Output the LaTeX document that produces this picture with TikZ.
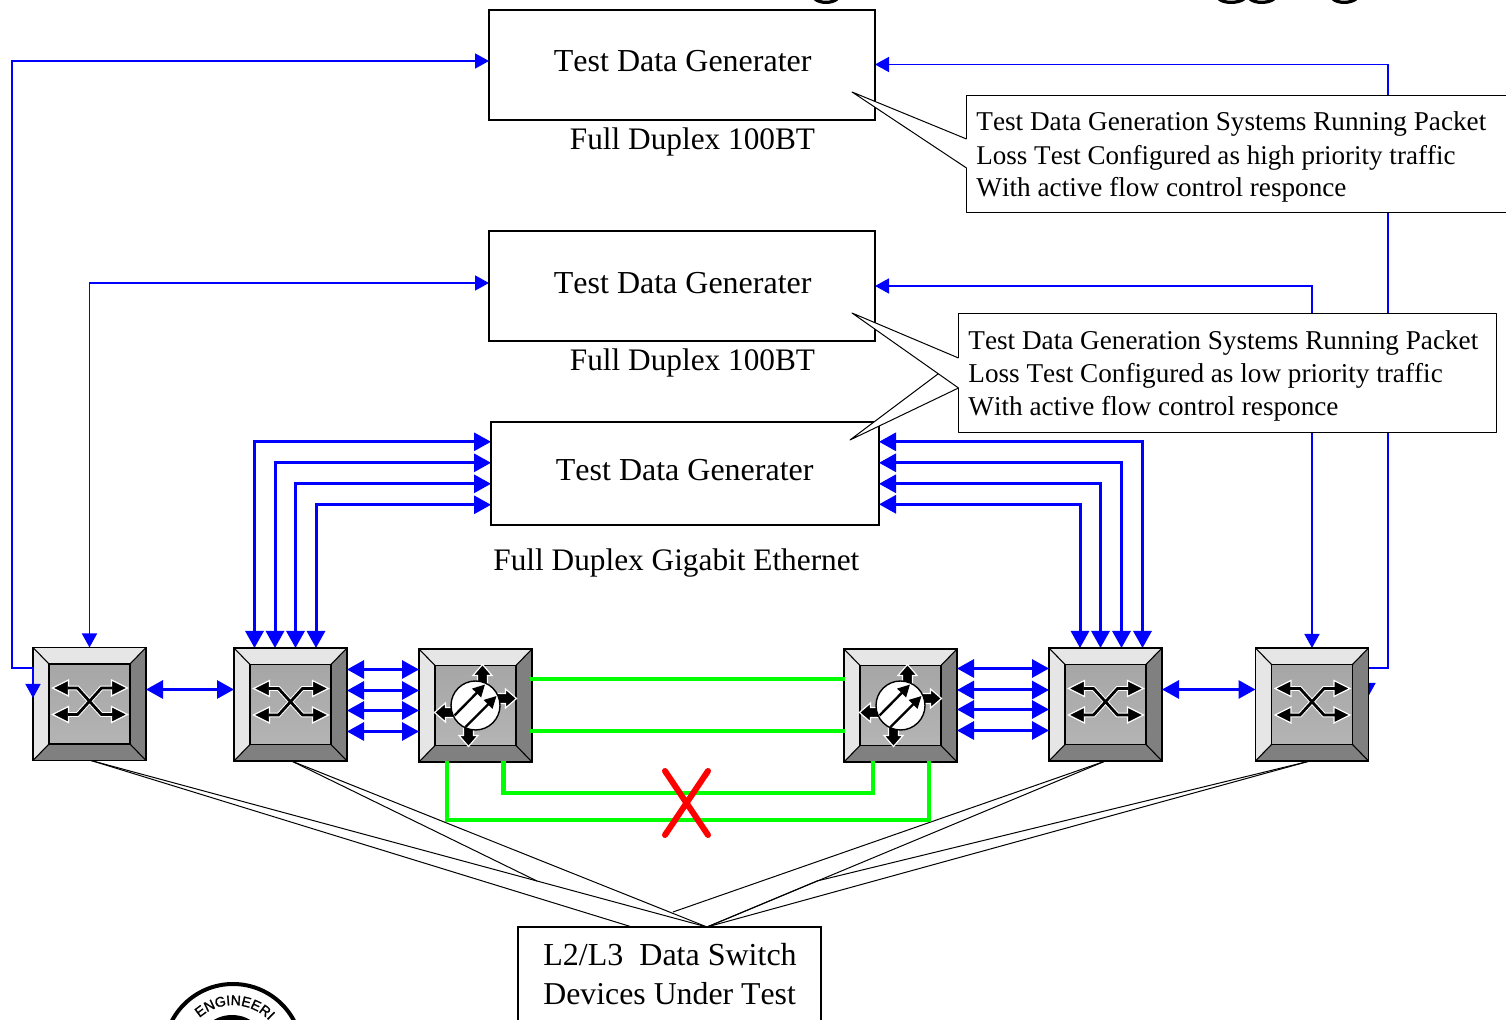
\documentclass[tikz,border=0pt]{standalone}
\usepackage{fontspec}
\setmainfont{Liberation Serif}[Kerning=Off]
\newfontfamily\sealfont{Liberation Sans}[FakeBold=1.5]
\usetikzlibrary{arrows.meta,calc,decorations.text}
\pgfdeclarelayer{back}
\pgfdeclarelayer{front}
\pgfsetlayers{back,main,front}
\definecolor{bevlight}{HTML}{E6E6E6}
\definecolor{bevdark}{HTML}{808080}
\definecolor{facetop}{HTML}{A6A6A6}
\definecolor{facebot}{HTML}{B4B4B4}
\tikzset{
  x=0.5pt,y=-0.5pt,
  genbox/.style={draw=black,fill=white,line width=0.75pt,inner sep=0pt,outer sep=0pt},
  devanchor/.style={inner sep=0pt,outer sep=0pt,minimum width=56.5pt,minimum height=56.5pt},
  bigtext/.style={font=\fontsize{16}{18}\selectfont,inner sep=0pt,anchor=base west},
  labeltext/.style={font=\fontsize{15.65}{18}\selectfont,inner sep=0pt,anchor=base west},
  calltext/.style={font=\fontsize{13.6}{16}\selectfont,inner sep=0pt,anchor=base west},
  thinblue/.style={draw=blue,line width=0.8pt},
  thinboth/.style={{Triangle[length=7pt,width=7.5pt]}-{Triangle[length=7pt,width=7.5pt]}},
  thickblue/.style={draw=blue,line width=1.5pt},
  dblhead/.style={{Triangle[length=8.5pt,width=9pt]}-{Triangle[length=8.5pt,width=9pt]}},
  greenlink/.style={draw=green,line width=2.4pt},
  tail/.style={draw=black,line width=0.5pt,line join=round},
  pics/bevel/.style={code={
    \fill[bevlight] (-56.5,-56.5)--(56.5,-56.5)--(40.5,-40)--(-40.5,-40)--cycle;
    \fill[bevlight] (-56.5,-56.5)--(-40.5,-40)--(-40.5,40)--(-56.5,56.5)--cycle;
    \fill[bevdark] (56.5,-56.5)--(40.5,-40)--(40.5,40)--(56.5,56.5)--cycle;
    \fill[bevdark] (-56.5,56.5)--(-40.5,40)--(40.5,40)--(56.5,56.5)--cycle;
    \shade[top color=facetop,bottom color=facebot] (-40.5,-40) rectangle (40.5,40);
    \draw[black,line width=0.55pt] (-56.5,-56.5)--(-40.5,-40) (56.5,-56.5)--(40.5,-40) (-56.5,56.5)--(-40.5,40) (56.5,56.5)--(40.5,40);
    \draw[black,line width=0.7pt] (-40.5,-40) rectangle (40.5,40);
    \draw[black,line width=0.9pt] (-56.5,-56.5) rectangle (56.5,56.5);
  }},
  pics/switchicon/.style={code={
    \draw[white,line width=2.4pt,line join=miter] (-24,-16)--(-12,-16)--(12,10.5)--(24,10.5);
    \draw[white,line width=2.4pt] (-24,10.5)--(-12,10.5)--(12,-16)--(24,-16);
    \foreach \hy in {-16,10.5}{
      \fill[black,draw=white,line width=0.6pt] (-37,\hy)--(-21,\hy-8)--(-21,\hy+8)--cycle;
      \fill[black,draw=white,line width=0.6pt] (38,\hy)--(22,\hy-8)--(22,\hy+8)--cycle;
    }
    \draw[black,line width=1.4pt] (-22,-16)--(-12,-16)--(12,10.5)--(23,10.5);
    \draw[black,line width=1.4pt] (-22,10.5)--(-12,10.5)--(12,-16)--(23,-16);
  }},
  pics/blockarrow/.style={code={
    \fill[black,draw=white,line width=0.6pt] (0,0)--(9.5,11)--(5,11)--(5,24)--(-5,24)--(-5,11)--(-9.5,11)--cycle;
  }},
  pics/routericon/.style={code={
    \pic[shift={(7,-41)}] {blockarrow};
    \pic[shift={(41,-7)},rotate=-90] {blockarrow};
    \pic[shift={(-7,41)},rotate=180] {blockarrow};
    \pic[shift={(-41,7)},rotate=90] {blockarrow};
    \draw[black,fill=white,line width=0.7pt] (0,0) circle[radius=24.5];
    \draw[black,line width=1.2pt,-{Triangle[length=6pt,width=6pt]}] (-21,10)--(9.5,-21);
    \draw[black,line width=1.2pt,-{Triangle[length=6pt,width=6pt]}] (-10,21.5)--(21,-9.5);
  }},
}
\begin{document}
\begin{tikzpicture}
\useasboundingbox (0,0) rectangle (1506,1020);
\clip (0,0) rectangle (1506,1020);

% generators
\node[genbox,minimum width=193pt,minimum height=55pt] (g1) at (682,65) {};
\node[genbox,minimum width=193pt,minimum height=55pt] (g2) at (682,286) {};
\node[genbox,minimum width=194pt,minimum height=51.5pt] (g3) at (685,473.5) {};
\node[bigtext] (g1t) at (553.5,72) {Test Data Generater};
\node[bigtext] (g2t) at (553.5,294) {Test Data Generater};
\node[bigtext] (g3t) at (555.5,481) {Test Data Generater};
\node[labeltext] (g1l) at (569.5,150) {Full Duplex 100BT};
\node[labeltext] (g2l) at (569.5,371) {Full Duplex 100BT};
\node[labeltext] (g3l) at (493,571) {Full Duplex Gigabit Ethernet};

% devices
\node[devanchor] (s1) at (89.5,704) {};
\node[devanchor] (s2) at (290.5,704.5) {};
\node[devanchor] (r1) at (475.5,705.5) {};
\node[devanchor] (r2) at (900.5,705.5) {};
\node[devanchor] (s3) at (1105.5,704.5) {};
\node[devanchor] (s4) at (1312,704.5) {};
\foreach \d in {s1,s2,s3,s4}{
  \pic at (\d) {bevel};
  \pic at (\d) {switchicon};
}
\foreach \d in {r1,r2}{
  \pic at (\d) {bevel};
  \pic at (\d) {routericon};
}

% callouts
\fill[white] (966.5,96) rectangle (1506,212.5);
\draw[tail] (966.5,139)--(966.5,96)--(1510,96) (1510,212.5)--(966.5,212.5)--(966.5,168);
\coordinate (c1a) at (966.5,139);
\coordinate (c1b) at (966.5,168);
\coordinate (c1p) at (852,92);
\fill[white] (c1a)--(c1p)--(c1b)--cycle;
\draw[tail] (c1a)--(c1p)--(c1b);
\node[calltext] (c1t1) at (976,131) {Test Data Generation Systems Running Packet};
\node[calltext,font=\fontsize{13.52}{16}\selectfont] (c1t2) at (976,165) {Loss Test Configured as high priority traffic};
\node[calltext] (c1t3) at (976,197) {With active flow control responce};

\fill[white] (958.5,314) rectangle (1496,432.5);
\draw[tail] (958.5,358)--(958.5,314)--(1496,314)--(1496,432.5)--(958.5,432.5)--(958.5,388);
\coordinate (c2a) at (958.5,358);
\coordinate (c2b) at (958.5,388);
\coordinate (c2p) at (852,313);
\coordinate (c2q) at (850,440);
\coordinate (c2r) at (938,374);
\fill[white] (c2a)--(c2p)--(c2r)--(c2q)--(c2b)--cycle;
\draw[tail] (c2a)--(c2p)--(c2b)--(c2q)--(c2r);
\node[calltext] (c2t1) at (968,350) {Test Data Generation Systems Running Packet};
\node[calltext] (c2t2) at (968,383) {Loss Test Configured as low priority traffic};
\node[calltext] (c2t3) at (968,416) {With active flow control responce};

% blue links behind boxes
\begin{pgfonlayer}{back}
\draw[thinblue,thinboth] (g2.west |- 0,283) -- (89.5,283) -- (s1.north);
\draw[thinblue,thinboth] (s4.north) -- (1312,286) -- (g2.east |- 0,286);
\draw[thinblue,thinboth] (1368,697) -- (1368,668) -- (1388,668) -- (1388,64.5) -- (g1.east |- 0,64.5);
\foreach \yy/\xx in {441.8/254.5,462.8/275,483.8/295.5,504.8/316}{
  \draw[thickblue,dblhead] (g3.west |- 0,\yy) -- (\xx,\yy) -- (\xx,0 |- s2.north);
}
\foreach \yy/\xx in {441.8/1142.5,462.8/1121.5,483.8/1100.5,504.3/1080}{
  \draw[thickblue,dblhead] (g3.east |- 0,\yy) -- (\xx,\yy) -- (\xx,0 |- s3.north);
}
\end{pgfonlayer}
\begin{pgfonlayer}{front}
\draw[thinblue,thinboth] (g1.west |- 0,61) -- (12,61) -- (12,668) -- (33,668) -- (33,698);
\draw[thickblue,dblhead] (s1.east |- 0,689.5) -- (s2.west |- 0,689.5);
\foreach \yy in {669.5,690.5,710.5,731.5}{
  \draw[thickblue,dblhead] (s2.east |- 0,\yy) -- (r1.west |- 0,\yy);
}
\foreach \yy in {668.5,690,709.5,730.5}{
  \draw[thickblue,dblhead] (r2.east |- 0,\yy) -- (s3.west |- 0,\yy);
}
\draw[thickblue,dblhead] (s3.east |- 0,689.5) -- (s4.west |- 0,689.5);

% green links
\draw[greenlink] ($(r1.east |- 0,679)+(-2,0)$) -- ($(r2.west |- 0,679)+(1,0)$);
\draw[greenlink] ($(r1.east |- 0,731)+(-2,0)$) -- ($(r2.west |- 0,731)+(1,0)$);
\draw[greenlink] ($(503.5,0 |- r1.south)+(0,-1)$) -- (503.5,793) -- (873,793) -- ($(873,0 |- r2.south)+(0,-1)$);
\draw[greenlink] ($(447,0 |- r1.south)+(0,-1)$) -- (447,820) -- (929,820) -- ($(929,0 |- r2.south)+(0,-1)$);

% red cross
\draw[red,line width=3pt,line cap=round] (665,771)--(708,835) (708,771)--(665,835);
\end{pgfonlayer}

% bottom box
\node[genbox,minimum width=151.5pt,minimum height=60pt,anchor=north west] (dut) at (518,927) {};
\node[bigtext] (dut1) at (543,966) {L2/L3\ \ Data Switch};
\node[labeltext,font=\fontsize{15.9}{18}\selectfont] (dut2) at (543,1005) {Devices Under Test};
\coordinate (dp) at (707,927);
\coordinate (dq) at (632,927);
\coordinate (dl) at (537,881);
\coordinate (dr) at (817,881);
\coordinate (dk) at (673,912);
\draw[tail] (s1.south) ++(1.5,0) coordinate (s1b) -- (dq);
\draw[tail] (s1b) -- (dl) -- (dp);
\draw[tail] (s2.south) ++(1,0) coordinate (s2b) -- (dp);
\draw[tail] (s2b) -- (dl);
\draw[tail] (s3.south) coordinate (s3b) -- (dk);
\draw[tail] (s3b) -- (dp);
\draw[tail] (s4.south) ++(-2,0) coordinate (s4b) -- (dp);
\draw[tail] (s4b) -- (dr) -- (dp);

% logo, cut by the page edge
\draw[black,line width=2pt] (233,1053) circle[radius=69];
\fill[black] (232,1051) circle[radius=36];
\path[decorate,decoration={text along path,text align=left,text={|\fontsize{7}{9}\sealfont\selectfont|ENGINEERI}}]
   (199.5,1018) arc[start angle=228,end angle=340,radius=50];

% cut-off title descenders at the top edge
\draw[black,line width=1.6pt] (815,-1) .. controls (820,3.5) and (832,3.5) .. (837,-1);
\draw[black,line width=1.6pt] (1219,-1) .. controls (1224,3.5) and (1238,3.5) .. (1244,-1);
\draw[black,line width=1.6pt] (1250,-1) .. controls (1255,3.5) and (1268,3.5) .. (1274,-1);
\draw[black,line width=1.6pt] (1333,-1) .. controls (1338,3.5) and (1350,3.5) .. (1356,-1);
\end{tikzpicture}
\end{document}
